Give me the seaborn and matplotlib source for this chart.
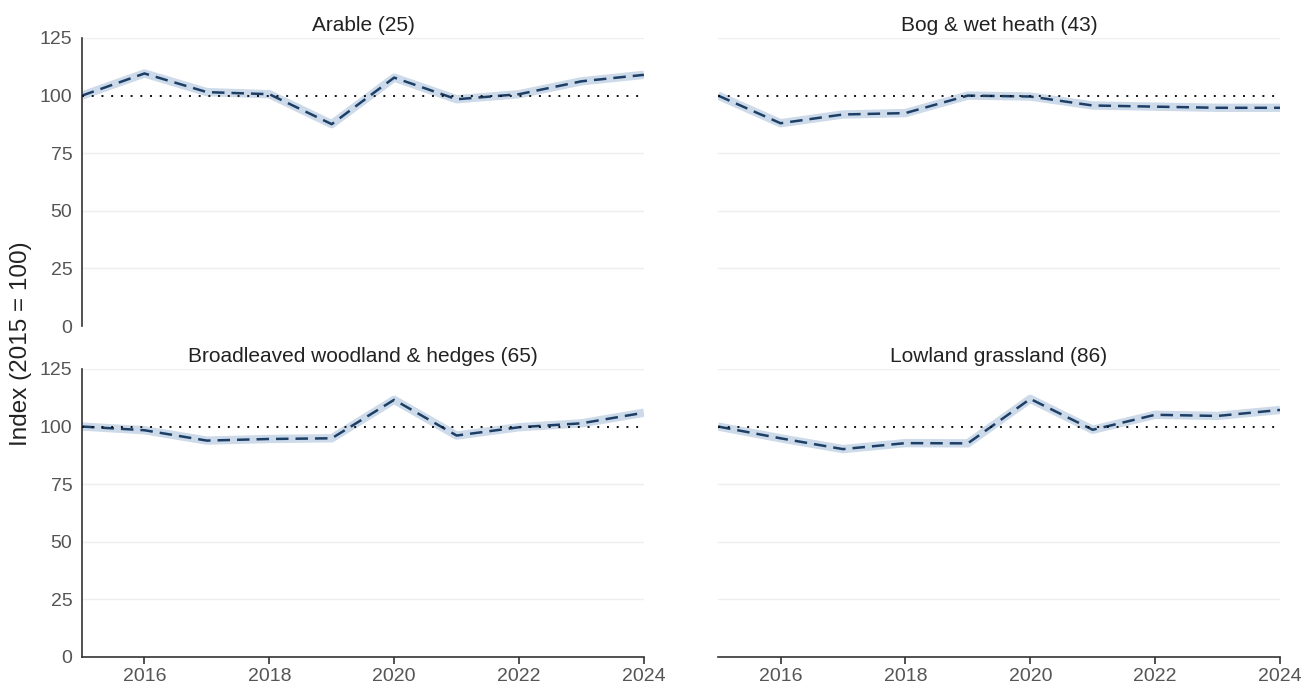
import numpy as np
import pandas as pd
import matplotlib
matplotlib.use("Agg")
import matplotlib.pyplot as plt
import seaborn as sns

years = [2015, 2016, 2017, 2018, 2019, 2020, 2021, 2022, 2023, 2024]

habitats = [
    "Arable (25)",
    "Bog & wet heath (43)",
    "Broadleaved woodland & hedges (65)",
    "Lowland grassland (86)",
]

arable = [100, 109.6, 101.5, 100.6, 87.6, 107.8, 98.4, 100.6, 106.2, 109.0]
bog_wet_heath = [100, 88.0, 91.8, 92.4, 100.0, 99.6, 95.7, 95.2, 94.7, 94.7]
broadleaved = [100, 98.4, 93.9, 94.6, 94.9, 111.6, 96.1, 99.7, 101.4, 106.0]
lowland_grassland = [100, 94.9, 90.2, 92.8, 92.7, 112.0, 98.6, 105.1, 104.6, 107.2]

series = [arable, bog_wet_heath, broadleaved, lowland_grassland]

y_ticks = [0, 25, 50, 75, 100, 125]
x_ticks = [2016, 2018, 2020, 2022, 2024]
baseline = 100

band_color = "#cddaea"
line_color = "#1d3f66"

sns.set_theme(style="white")
plt.rcParams["font.family"] = ["Liberation Sans", "DejaVu Sans"]

fig, axes = plt.subplots(2, 2, figsize=(13.12, 6.88), dpi=100, sharex=True, sharey=True)
fig.subplots_adjust(left=0.0625, right=0.9756, top=0.9448, bottom=0.0451,
                    wspace=0.132, hspace=0.149)

for i, (ax, title, vals) in enumerate(zip(axes.flat, habitats, series)):
    df = pd.DataFrame({"year": years, "index": vals})
    # light uncertainty halo behind the trend line
    sns.lineplot(data=df, x="year", y="index", ax=ax, color=band_color,
                 linewidth=6, solid_capstyle="butt", zorder=2)
    sns.lineplot(data=df, x="year", y="index", ax=ax, color=line_color,
                 linewidth=1.8, dashes=False, zorder=3)
    ax.lines[-1].set_linestyle((0, (5, 2.8)))
    ax.axhline(baseline, color="#111111", linestyle=(0, (1, 4)), linewidth=1.4, zorder=4)

    ax.set_xlim(years[0], years[-1])
    ax.set_ylim(y_ticks[0], y_ticks[-1])
    ax.set_yticks(y_ticks)
    ax.set_xticks(x_ticks)
    for t in y_ticks[1:]:
        if t != baseline:
            ax.axhline(t, color="#efefef", linewidth=1.0, zorder=1)

    ax.set_title(title, fontsize=15, color="#222222", pad=5)
    ax.set_xlabel("")
    ax.set_ylabel("")

    row, col = divmod(i, 2)
    for side in ["top", "right", "left", "bottom"]:
        ax.spines[side].set_visible(False)
    if col == 0:
        ax.spines["left"].set_visible(True)
        ax.spines["left"].set_color("#333333")
        ax.spines["left"].set_linewidth(1.2)
    if row == 1:
        ax.spines["bottom"].set_visible(True)
        ax.spines["bottom"].set_color("#333333")
        ax.spines["bottom"].set_linewidth(1.2)
    ax.tick_params(axis="y", left=False, length=0, labelleft=(col == 0), labelsize=14,
                   labelcolor="#555555", pad=7)
    ax.tick_params(axis="x", bottom=(row == 1), labelbottom=(row == 1), labelsize=14,
                   labelcolor="#555555", length=5, width=1.2, color="#333333", pad=3)

fig.text(0.016, 0.5, "Index (2015 = 100)", rotation=90, va="center", ha="center",
         fontsize=17.5, color="#222222")

fig.savefig("out.png", dpi=100, facecolor="white")
